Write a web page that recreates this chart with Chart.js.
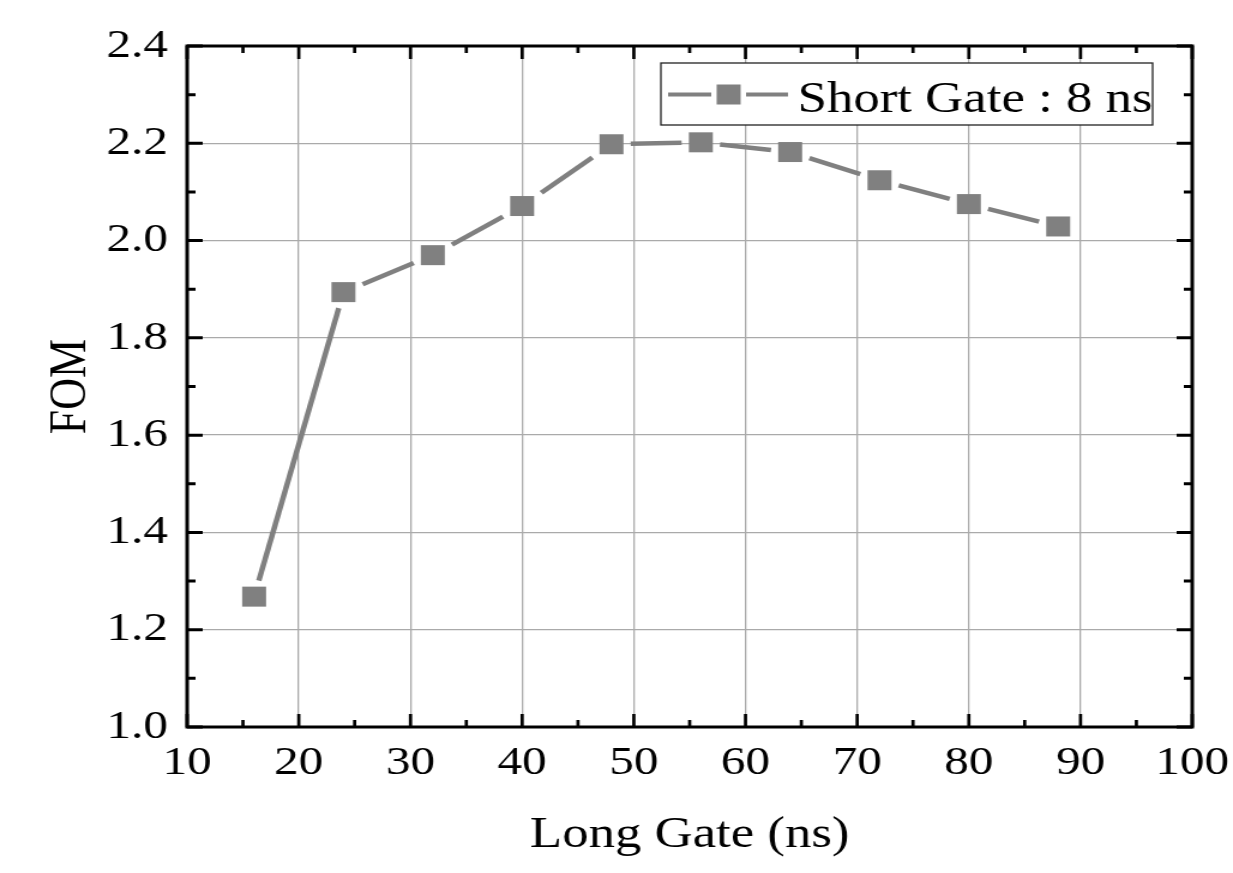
<!DOCTYPE html>
<html>
<head>
<meta charset="utf-8">
<script src="https://cdn.jsdelivr.net/npm/chart.js@4.4.1/dist/chart.umd.min.js"></script>
<style>
  html, body { margin: 0; padding: 0; background: #fff; overflow: hidden; }
  /* the reference picture is stretched sideways, so draw narrower and widen */
  #wrap { width: 1028px; height: 873px; transform: scaleX(1.1994); transform-origin: 0 0; }
</style>
</head>
<body>
<div id="wrap"><canvas id="grafico" width="1028" height="873"></canvas></div>
<script>
const longGate = [16, 24, 32, 40, 48, 56, 64, 72, 80, 88];
const fom = [1.268, 1.894, 1.970, 2.071, 2.198, 2.202, 2.182, 2.124, 2.075, 2.029];
const xTicks = [10, 20, 30, 40, 50, 60, 70, 80, 90, 100];
const xMinor = [15, 25, 35, 45, 55, 65, 75, 85, 95];
const yTicks = [1.0, 1.2, 1.4, 1.6, 1.8, 2.0, 2.2, 2.4];
const yMinor = [1.1, 1.3, 1.5, 1.7, 1.9, 2.1, 2.3];
const serieNombre = 'Short Gate : 8 ns';

const gris = '#808080';
const fuente = 'Liberation Serif, Times New Roman, serif';

// line pieces that stop short of each marker
const lineasCortadas = {
  id: 'lineasCortadas',
  beforeDatasetsDraw(chart) {
    const pts = chart.getDatasetMeta(0).data;
    const ctx = chart.ctx;
    ctx.save();
    ctx.strokeStyle = gris;
    ctx.lineWidth = 4.5;
    for (let i = 0; i < pts.length - 1; i++) {
      const a = pts[i], b = pts[i + 1];
      const dx = b.x - a.x, dy = b.y - a.y;
      const len = Math.hypot(dx, dy);
      const ux = dx / len, uy = dy / len;
      const corte = 16 / Math.max(Math.abs(ux), Math.abs(uy));
      if (len <= 2 * corte) continue;
      ctx.beginPath();
      ctx.moveTo(a.x + ux * corte, a.y + uy * corte);
      ctx.lineTo(b.x - ux * corte, b.y - uy * corte);
      ctx.stroke();
    }
    ctx.restore();
  }
};

// black frame with inward ticks on all four sides
const marco = {
  id: 'marco',
  afterDatasetsDraw(chart) {
    const { ctx, chartArea: { left, right, top, bottom }, scales: { x, y } } = chart;
    ctx.save();
    ctx.strokeStyle = '#000';
    ctx.lineWidth = 2.7;
    ctx.beginPath();
    const marcasX = (vals, largo) => vals.forEach((v) => {
      const px = x.getPixelForValue(v);
      ctx.moveTo(px, bottom); ctx.lineTo(px, bottom - largo);
      ctx.moveTo(px, top); ctx.lineTo(px, top + largo);
    });
    marcasX(xTicks, 13);
    marcasX(xMinor, 7);
    ctx.stroke();
    ctx.lineWidth = 3;
    ctx.beginPath();
    const marcasY = (vals, largo) => vals.forEach((v) => {
      const py = y.getPixelForValue(v);
      ctx.moveTo(left, py); ctx.lineTo(left + largo, py);
      ctx.moveTo(right, py); ctx.lineTo(right - largo, py);
    });
    marcasY(yTicks, 13);
    marcasY(yMinor, 7);
    ctx.stroke();
    ctx.lineWidth = 3;
    ctx.strokeRect(left, top, right - left, bottom - top);
    ctx.restore();
  }
};

const leyenda = {
  id: 'leyenda',
  afterDraw(chart) {
    const ctx = chart.ctx;
    ctx.save();
    ctx.fillStyle = '#fff';
    ctx.fillRect(551, 63, 410, 62);
    ctx.strokeStyle = '#222';
    ctx.lineWidth = 1.3;
    ctx.strokeRect(551, 63, 410, 62);
    ctx.strokeStyle = gris;
    ctx.lineWidth = 4;
    ctx.beginPath();
    ctx.moveTo(557, 94.5); ctx.lineTo(593, 94.5);
    ctx.moveTo(622, 94.5); ctx.lineTo(657, 94.5);
    ctx.stroke();
    ctx.fillStyle = gris;
    ctx.fillRect(597.5, 84.5, 20, 20);
    ctx.fillStyle = '#000';
    ctx.font = `44px ${fuente}`;
    ctx.textBaseline = 'alphabetic';
    ctx.fillText(serieNombre, 665, 112);
    ctx.restore();
  }
};

new Chart(document.querySelector('#grafico'), {
  type: 'line',
  data: {
    datasets: [{
      label: serieNombre,
      data: longGate.map((g, i) => ({ x: g, y: fom[i] })),
      showLine: false,
      pointStyle: 'rect',
      pointRadius: 14.14,
      pointHoverRadius: 14.14,
      pointBackgroundColor: gris,
      pointBorderWidth: 0
    }]
  },
  options: {
    responsive: false,
    devicePixelRatio: 1,
    animation: false,
    events: [],
    layout: { padding: { top: 46, right: 34, left: 0, bottom: 0 } },
    plugins: { legend: { display: false }, tooltip: { enabled: false } },
    scales: {
      x: {
        type: 'linear',
        min: 10,
        max: 100,
        afterBuildTicks: (s) => { s.ticks = xTicks.map((v) => ({ value: v })); },
        afterFit: (s) => { s.height = 146; s.paddingLeft = 0; s.paddingRight = 0; },
        grid: { color: '#aaaaaa', lineWidth: 1.3, drawTicks: false },
        border: { display: false },
        ticks: { autoSkip: false, maxRotation: 0, padding: 12, color: '#000', font: { family: fuente, size: 41 }, callback: (v) => String(v) },
        title: { display: true, text: 'Long Gate (ns)', color: '#000', font: { family: fuente, size: 44 }, padding: { top: 0, bottom: 11 } }
      },
      y: {
        type: 'linear',
        min: 1.0,
        max: 2.4,
        afterBuildTicks: (s) => { s.ticks = yTicks.map((v) => ({ value: v })); },
        afterFit: (s) => { s.width = 156; s.paddingTop = 0; s.paddingBottom = 0; },
        grid: { color: '#aaaaaa', lineWidth: 1.3, drawTicks: false },
        border: { display: false },
        ticks: { autoSkip: false, padding: 16, color: '#000', font: { family: fuente, size: 41 }, callback: (v) => Number(v).toFixed(1) },
        title: { display: true, text: 'FOM', color: '#000', font: { family: fuente, size: 44 }, padding: { top: 33, bottom: 0 } }
      }
    }
  },
  plugins: [lineasCortadas, marco, leyenda]
});
</script>
</body>
</html>
